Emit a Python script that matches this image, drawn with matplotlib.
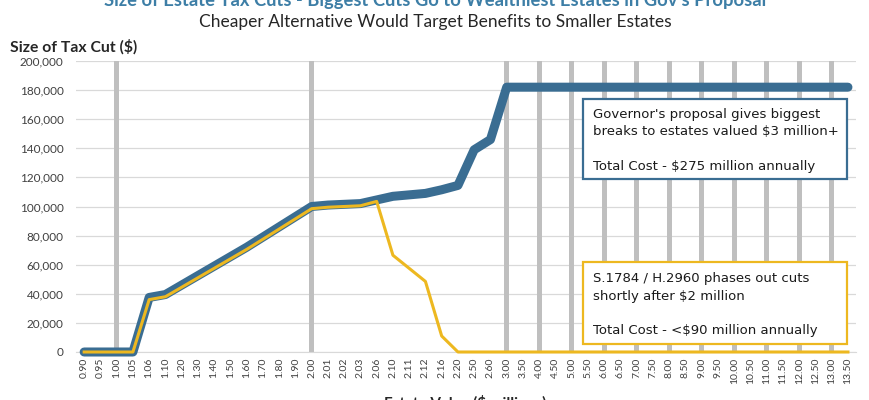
import matplotlib
matplotlib.use("Agg")
import matplotlib.pyplot as plt
from matplotlib.patches import Rectangle
from matplotlib.ticker import FuncFormatter

plt.rcParams['font.family'] = ['Lato', 'DejaVu Sans']

# estate values ($ millions), one category each
categories = ["0.90", "0.95", "1.00", "1.05", "1.06", "1.10", "1.20", "1.30", "1.40",
              "1.50", "1.60", "1.70", "1.80", "1.90", "2.00", "2.01", "2.02", "2.03",
              "2.06", "2.10", "2.11", "2.12", "2.16", "2.20", "2.50", "2.60", "3.00",
              "3.50", "4.00", "4.50", "5.00", "5.50", "6.00", "6.50", "7.00", "7.50",
              "8.00", "8.50", "9.00", "9.50", "10.00", "10.50", "11.00", "11.50",
              "12.00", "12.50", "13.00", "13.50"]

# governor's proposal
governor = [0, 0, 0, 0, 37500, 39500, 46000, 52500, 59000, 65500, 72000, 79000,
            86000, 93000, 100000, 101000, 101500, 102000, 104500, 107000, 108000,
            109000, 111500, 114500, 139000, 146000, 182000, 182000, 182000, 182000,
            182000, 182000, 182000, 182000, 182000, 182000, 182000, 182000, 182000,
            182000, 182000, 182000, 182000, 182000, 182000, 182000, 182000, 182000]

# S.1784 / H.2960
senate = [0, 0, 0, 0, 36000, 38000, 44500, 51000, 57500, 64000, 70500, 77500,
          84500, 91500, 98500, 99500, 100000, 100500, 103500, 66500, 57500,
          48500, 11000, 0, 0, 0, 0, 0, 0, 0, 0, 0, 0, 0, 0, 0, 0, 0, 0, 0, 0, 0,
          0, 0, 0, 0, 0, 0]

# gray markers at whole-million values
markers = [200000 if float(c).is_integer() else 0 for c in categories]

BLUE = "#3A6D92"
GOLD = "#EDB820"
GRAY = "#BFBFBF"

fig = plt.figure(figsize=(8.7, 4), dpi=100)
ax = fig.add_axes([0.0874, 0.12, 0.8966, 0.7275])

x = list(range(len(categories)))
ax.bar(x, markers, width=0.3, color=GRAY, zorder=1)
ax.plot(x, governor, color=BLUE, lw=6.5, solid_capstyle='round',
        solid_joinstyle='round', zorder=3, clip_on=False)
ax.plot(x, senate, color=GOLD, lw=2.2, solid_joinstyle='round', zorder=4,
        clip_on=False)

ax.set_xlim(-0.5, len(categories) - 0.5)
ax.set_ylim(0, 200000)
ax.set_yticks(range(0, 200001, 20000))
ax.yaxis.set_major_formatter(FuncFormatter(lambda v, p: f"{int(v):,}"))
ax.set_xticks(x)
ax.set_xticklabels(categories, rotation=90, fontsize=7.5, color="#404040")
ax.tick_params(axis='y', labelsize=8.5, colors="#404040", length=0, pad=9)
ax.tick_params(axis='x', length=0, pad=4)
ax.grid(axis='y', color="#D9D9D9", lw=0.9, zorder=0)
ax.set_axisbelow(True)
for s in ['top', 'right', 'left']:
    ax.spines[s].set_visible(False)
ax.spines['bottom'].set_color("#D9D9D9")

# titles
fig.text(0.5, 0.998, "Size of Estate Tax Cuts - Biggest Cuts Go to Wealthiest Estates in Gov's Proposal",
         ha='center', va='center', fontsize=13.2, fontweight='bold', color="#3D7EA6")
fig.text(0.5, 0.945, "Cheaper Alternative Would Target Benefits to Smaller Estates",
         ha='center', va='center', fontsize=12.5, color="#262626")
fig.text(0.012, 0.882, "Size of Tax Cut ($)", ha='left', va='center',
         fontsize=11.3, fontweight='bold', color="#262626")
fig.text(0.535, 0.0125, "Estate Value ($ millions)", ha='center', va='top',
         fontsize=11, fontweight='bold', color="#262626")

# annotation boxes
note_font = ['DejaVu Sans']
fig.patches.append(Rectangle((0.6701, 0.5525), 0.3034, 0.2, transform=fig.transFigure,
                             facecolor='white', edgecolor=BLUE, lw=1.6, zorder=5))
fig.text(0.6816, 0.73, "Governor's proposal gives biggest\nbreaks to estates valued $3 million+\n\nTotal Cost - $275 million annually",
         ha='left', va='top', fontsize=9.5, linespacing=1.42, color="#1a1a1a",
         family=note_font, zorder=6)
fig.patches.append(Rectangle((0.6701, 0.14), 0.3034, 0.205, transform=fig.transFigure,
                             facecolor='white', edgecolor=GOLD, lw=1.6, zorder=5))
fig.text(0.6816, 0.319, "S.1784 / H.2960 phases out cuts\nshortly after $2 million\n\nTotal Cost - <$90 million annually",
         ha='left', va='top', fontsize=9.5, linespacing=1.42, color="#1a1a1a",
         family=note_font, zorder=6)

fig.savefig("out.png", dpi=100)
